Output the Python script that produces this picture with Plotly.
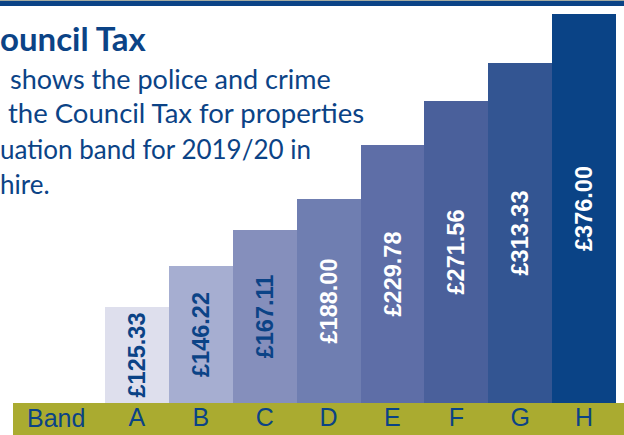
import plotly.graph_objects as go

bands = ["A", "B", "C", "D", "E", "F", "G", "H"]
values = [125.33, 146.22, 167.11, 188.00, 229.78, 271.56, 313.33, 376.00]
labels = ["£125.33", "£146.22", "£167.11", "£188.00", "£229.78", "£271.56", "£313.33", "£376.00"]
bar_colors = ["#dedfed", "#a6aed1", "#858fbc", "#6f7eb1", "#5e6ea7", "#4a609b", "#335592", "#0a4386"]
label_colors = ["#0b4386", "#0b4386", "#0b4386", "#ffffff", "#ffffff", "#ffffff", "#ffffff", "#ffffff"]

title_text = "ouncil Tax"
body_lines = ["shows the police and crime", "the Council Tax for properties",
              "uation band for 2019/20 in", "hire."]

BLUE = "#0b4386"
OLIVE = "#aaab30"
W, H = 624, 435
ML, MR, MT, MB = 105, 8, 0, 32
PW, PH = W - ML - MR, H - MT - MB

def px_x(px):
    return (px - ML) / PW

def px_y(py):
    return 1 - (py - MT) / PH

fig = go.Figure(go.Bar(
    x=bands, y=values, text=labels,
    marker=dict(color=bar_colors, line=dict(width=0)),
    textposition="inside", insidetextanchor="middle", textangle=-90,
    textfont=dict(family="Liberation Sans, Arial, sans-serif", size=23.5,
                  color=label_colors, weight="bold"),
    hoverinfo="skip", cliponaxis=False,
))

shapes = [
    dict(type="rect", xref="paper", yref="paper", x0=px_x(13), x1=px_x(624),
         y0=px_y(435), y1=px_y(403), fillcolor=OLIVE, line=dict(width=0), layer="below"),
    dict(type="rect", xref="paper", yref="paper", x0=px_x(0), x1=px_x(624),
         y0=px_y(1), y1=px_y(0), fillcolor="#a3aaa0", line=dict(width=0)),
    dict(type="rect", xref="paper", yref="paper", x0=px_x(0), x1=px_x(624),
         y0=px_y(6), y1=px_y(1), fillcolor=BLUE, line=dict(width=0)),
]

annotations = [
    dict(text="Band", xref="paper", yref="paper", x=px_x(56), y=px_y(418),
         xanchor="center", yanchor="middle", showarrow=False,
         font=dict(family="Liberation Sans, Arial, sans-serif", size=25, color=BLUE)),
    dict(text=title_text, xref="paper", yref="paper", x=px_x(-2), y=px_y(38),
         xanchor="left", yanchor="middle", showarrow=False,
         font=dict(family="Lato, sans-serif", size=33, color=BLUE, weight="bold")),
]
starts = [8, 6, -2, -2]
sizes = [27, 27.5, 26, 26]
centers = [78, 113, 149, 184]
for line, sx, cy, fs in zip(body_lines, starts, centers, sizes):
    annotations.append(dict(text=line, xref="paper", yref="paper", x=px_x(sx), y=px_y(cy),
                            xanchor="left", yanchor="middle", showarrow=False,
                            font=dict(family="Lato, sans-serif", size=fs, color=BLUE)))

fig.update_layout(
    width=W, height=H, margin=dict(l=ML, r=MR, t=MT, b=MB, pad=0),
    paper_bgcolor="white", plot_bgcolor="white",
    bargap=0, showlegend=False,
    xaxis=dict(type="category", range=[-0.5, 7.5], showgrid=False, zeroline=False,
               showline=False, ticks="", ticklabelstandoff=-3,
               tickfont=dict(family="Liberation Sans, Arial, sans-serif", size=25, color=BLUE),
               fixedrange=True),
    yaxis=dict(type="log", range=[1.94175, 2.5981], showgrid=False, zeroline=False,
               showline=False, showticklabels=False, ticks="", fixedrange=True),
    uniformtext=dict(minsize=23.5, mode="show"),
    shapes=shapes, annotations=annotations,
)

fig.write_html("out.html", config={"displayModeBar": False},
               post_script="document.body.style.margin='0';document.body.style.overflow='hidden';")
